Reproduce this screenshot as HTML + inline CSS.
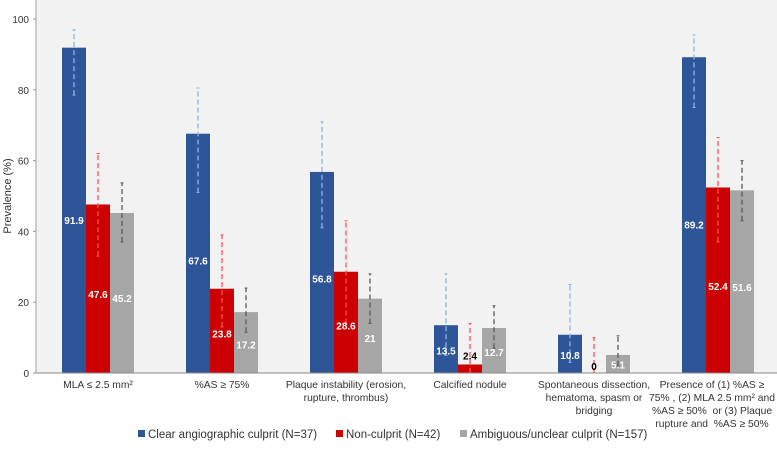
<!DOCTYPE html>
<html><head><meta charset="utf-8"><style>
body{margin:0;background:#fff;}
svg text{font-family:"Liberation Sans","DejaVu Sans",sans-serif;white-space:pre;}
</style></head><body>
<svg id="chart" width="777" height="447" xmlns="http://www.w3.org/2000/svg">
<rect x="37" y="0" width="740" height="373" fill="#f2f2f2"/>
<g id="marks"></g>
<line x1="36" y1="0" x2="36" y2="373" stroke="#999"/>
<line x1="33" y1="373" x2="777" y2="373" stroke="#888"/>
<text transform="translate(11,196) rotate(-90)" font-size="11" fill="#333" text-anchor="middle">Prevalence (%)</text>
<g font-size="11.5" fill="#333">
<rect x="138" y="430" width="7" height="7" fill="#2e5597"/>
<text x="148" y="438">Clear angiographic culprit (N=37)</text>
<rect x="336" y="430" width="7" height="7" fill="#cc0000"/>
<text x="346" y="438">Non-culprit (N=42)</text>
<rect x="460" y="430" width="7" height="7" fill="#a6a6a6"/>
<text x="470" y="438">Ambiguous/unclear culprit (N=157)</text>
</g>
</svg>
<script>
const categories=[["MLA ≤ 2.5 mm²"],["%AS ≥ 75%"],["Plaque instability (erosion,","rupture, thrombus)"],["Calcified nodule"],["Spontaneous dissection,","hematoma, spasm or","bridging"],["Presence of (1) %AS ≥","75% , (2) MLA 2.5 mm² and","%AS ≥ 50%  or (3) Plaque","rupture and  %AS ≥ 50%"]];
const clearVals=[91.9,67.6,56.8,13.5,10.8,89.2];
const nonVals=[47.6,23.8,28.6,2.4,0,52.4];
const ambVals=[45.2,17.2,21,12.7,5.1,51.6];
const clearLo=[78.5,51,41,5,3,75];
const clearHi=[97,80.5,71,28,25,95.5];
const nonLo=[33,13,14,0,0,37];
const nonHi=[62,39,43,14,10,66.5];
const ambLo=[37,11.5,14,7,2,43];
const ambHi=[53.7,24,28,19,10.5,60];
const yTicks=[0,20,40,60,80,100];
const svg=document.getElementById('chart');
const g=document.getElementById('marks');
const NS="http://www.w3.org/2000/svg";
const y=v=>373-v*3.54;
const xc=i=>36+124*i+62;
function mk(t,a,p){const e=document.createElementNS(NS,t);for(const k in a)e.setAttribute(k,a[k]);(p||g).appendChild(e);return e;}
yTicks.forEach(t=>{
 mk('line',{x1:33,x2:36,y1:y(t),y2:y(t),stroke:'#999'},svg);
 const e=mk('text',{x:29,y:y(t)+4,'font-size':10,'text-anchor':'end',fill:'#333'},svg);
 
 
 e.textContent=t;
});
const series=[
 {v:clearVals,lo:clearLo,hi:clearHi,c:'#2e5597',e:'#8fb4e3',n:'clear'},
 {v:nonVals,lo:nonLo,hi:nonHi,c:'#cc0000',e:'#ff5050',n:'non-culprit'},
 {v:ambVals,lo:ambLo,hi:ambHi,c:'#a6a6a6',e:'#595959',n:'ambiguous'}];
categories.forEach((lines,i)=>{
 series.forEach((s,j)=>{
  const bx=xc(i)-36+24*j, v=s.v[i];
  const r=mk('rect',{x:bx,y:y(v),width:24,height:373-y(v),fill:s.c});
  
  
  const cx=bx+12;
  const l=mk('line',{x1:cx,x2:cx,y1:y(s.lo[i]),y2:y(s.hi[i]),stroke:s.e,'stroke-width':1.3,'stroke-dasharray':'5,3'});
  
  
  mk('line',{x1:cx-1.5,x2:cx+1.5,y1:y(s.hi[i]),y2:y(s.hi[i]),stroke:s.e});
  mk('line',{x1:cx-1.5,x2:cx+1.5,y1:y(s.lo[i]),y2:y(s.lo[i]),stroke:s.e});
  let ly=y(v*0.47)+4, fill='#fff';
  if(v<5){ly=y(v)-5;fill='#000';if(v===0)ly=370;}
  const t=mk('text',{x:cx,y:ly,'font-size':10,'font-weight':'bold','text-anchor':'middle',fill:fill});
  
  
  t.textContent=v;
 });
 const lx=i===categories.length-1?xc(i)-6:xc(i);
 lines.forEach((ln,k)=>{
  const t=mk('text',{x:lx,y:388+k*13,'font-size':10.3,'text-anchor':'middle',fill:'#333'},svg);
  
  
  t.textContent=ln;
 });
});
</script>
</body></html>
